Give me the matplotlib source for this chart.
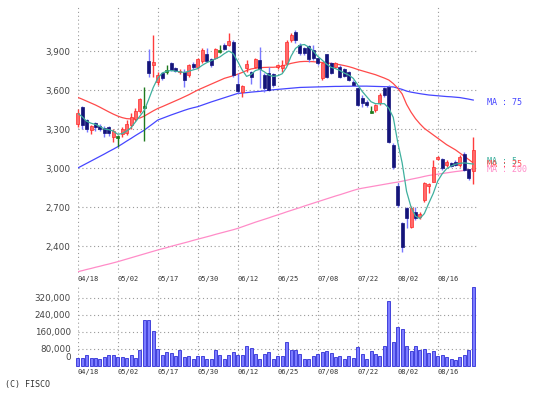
import numpy as np
import matplotlib
matplotlib.use('Agg')
import matplotlib.pyplot as plt

# daily candles 04/18 .. 08/28 (90 sessions)
opens = [3340, 3466, 3370, 3295, 3345, 3323, 3310, 3313, 3241, 3241,
         3262, 3267, 3330, 3380, 3440, 3470, 3825, 3792, 3664, 3728,
         3745, 3810, 3770, 3735, 3741, 3715, 3800, 3775, 3820, 3880,
         3835, 3850, 3900, 3950, 3945, 3971, 3646, 3587, 3766, 3740,
         3780, 3830, 3715, 3730, 3720, 3775, 3770, 3805, 3984, 4048,
         3946, 3920, 3938, 3907, 3843, 3689, 3876, 3805, 3779, 3779,
         3758, 3741, 3664, 3612, 3535, 3510, 3433, 3446, 3497, 3613,
         3626, 3177, 2862, 2580, 2690, 2549, 2664, 2625, 2754, 2862,
         2895, 3070, 3067, 3023, 3041, 3049, 3023, 3108, 2990, 2980]
highs = [3455, 3477, 3380, 3330, 3356, 3338, 3323, 3323, 3297, 3256,
         3313, 3370, 3420, 3460, 3540, 3626, 3912, 4023, 3740, 3735,
         3790, 3815, 3780, 3765, 3760, 3800, 3815, 3850, 3920, 3920,
         3850, 3925, 3950, 3960, 4035, 3984, 3728, 3640, 3830, 3750,
         3845, 3933, 3730, 3780, 3730, 3800, 3830, 3984, 4035, 4061,
         3959, 3933, 3946, 3946, 3850, 3810, 3880, 3815, 3815, 3790,
         3770, 3750, 3680, 3620, 3561, 3520, 3477, 3495, 3575, 3626,
         3639, 3190, 2882, 2587, 2703, 2708, 2703, 2660, 2895, 2882,
         3062, 3095, 3075, 3062, 3050, 3062, 3100, 3125, 2995, 3241]
lows = [3315, 3300, 3280, 3262, 3287, 3287, 3241, 3246, 3203, 3160,
        3241, 3254, 3300, 3360, 3420, 3205, 3702, 3700, 3640, 3680,
        3720, 3745, 3735, 3725, 3625, 3700, 3760, 3760, 3810, 3815,
        3780, 3840, 3885, 3905, 3940, 3702, 3574, 3548, 3740, 3650,
        3770, 3612, 3587, 3590, 3620, 3760, 3740, 3792, 3970, 3959,
        3870, 3870, 3818, 3830, 3795, 3680, 3690, 3720, 3770, 3695,
        3700, 3670, 3630, 3475, 3472, 3470, 3425, 3433, 3485, 3550,
        3190, 2995, 2703, 2357, 2536, 2536, 2600, 2610, 2741, 2805,
        2890, 3062, 2985, 3010, 3005, 3015, 3010, 2975, 2905, 2880]
closes = [3420, 3330, 3300, 3320, 3313, 3302, 3267, 3272, 3287, 3241,
          3297, 3338, 3395, 3440, 3530, 3470, 3728, 3818, 3715, 3690,
          3745, 3755, 3745, 3750, 3680, 3790, 3775, 3835, 3905, 3825,
          3790, 3912, 3900, 3912, 3980, 3715, 3590, 3630, 3800, 3700,
          3835, 3760, 3615, 3600, 3640, 3790, 3790, 3971, 4023, 3984,
          3882, 3882, 3836, 3843, 3805, 3805, 3697, 3728, 3805, 3702,
          3707, 3677, 3638, 3484, 3502, 3484, 3433, 3485, 3562, 3562,
          3203, 3005, 2716, 2395, 2613, 2690, 2613, 2650, 2887, 2877,
          3005, 3082, 2998, 3049, 3015, 3023, 3087, 2985, 2921, 3139]
volume = [38000, 38000, 54000, 38000, 38000, 35000, 43000, 54000, 51000, 42000,
          43000, 38000, 51000, 38000, 77000, 215000, 218000, 165000, 82000, 54000,
          66000, 63000, 46000, 74000, 43000, 48000, 35000, 46000, 46000, 35000,
          35000, 77000, 51000, 35000, 54000, 66000, 54000, 54000, 92000, 85000,
          58000, 35000, 58000, 66000, 34000, 49000, 49000, 112000, 74000, 74000,
          58000, 31000, 35000, 49000, 58000, 66000, 71000, 62000, 43000, 49000,
          35000, 49000, 38000, 89000, 58000, 35000, 71000, 55000, 48000, 92000,
          308000, 112000, 185000, 174000, 92000, 71000, 92000, 77000, 82000, 62000,
          71000, 46000, 51000, 43000, 32000, 28000, 43000, 54000, 74000, 372000]

ma5 = [3421, 3395, 3360, 3345, 3335, 3320, 3300, 3295, 3285, 3260,
       3265, 3285, 3310, 3355, 3400, 3445, 3530, 3620, 3690, 3730,
       3745, 3750, 3745, 3740, 3735, 3745, 3755, 3765, 3790, 3810,
       3825, 3840, 3855, 3880, 3900, 3880, 3820, 3755, 3705, 3720,
       3750, 3760, 3740, 3715, 3705, 3710, 3725, 3775, 3860, 3920,
       3945, 3950, 3930, 3900, 3860, 3830, 3800, 3775, 3765, 3750,
       3730, 3715, 3690, 3640, 3590, 3550, 3510, 3495, 3495, 3495,
       3460, 3390, 3200, 3040, 2820, 2700, 2630, 2612, 2650, 2730,
       2805, 2900, 2955, 2995, 3015, 3030, 3036, 3040, 3035, 3031]
ma25 = [3544, 3530, 3515, 3500, 3485, 3468, 3450, 3432, 3415, 3400,
        3388, 3380, 3378, 3380, 3385, 3400, 3420, 3440, 3458, 3472,
        3487, 3502, 3517, 3532, 3548, 3564, 3582, 3600, 3615, 3630,
        3645, 3660, 3675, 3690, 3700, 3710, 3722, 3735, 3750, 3762,
        3768, 3772, 3774, 3775, 3775, 3778, 3785, 3795, 3805, 3812,
        3818, 3820, 3820, 3818, 3815, 3812, 3808, 3805, 3800, 3795,
        3788, 3780, 3770, 3758, 3748, 3738, 3728, 3718, 3705, 3692,
        3677, 3650, 3615, 3570, 3490, 3430, 3380, 3340, 3305, 3280,
        3255, 3230, 3205, 3180, 3160, 3140, 3115, 3090, 3065, 3040]
ma75 = [3000, 3018, 3036, 3054, 3072, 3090, 3108, 3127, 3145, 3164,
        3185, 3207, 3228, 3250, 3271, 3292, 3318, 3343, 3369, 3382,
        3395, 3408, 3420, 3432, 3444, 3455, 3464, 3472, 3484, 3496,
        3508, 3519, 3530, 3541, 3552, 3563, 3574, 3577, 3580, 3584,
        3587, 3590, 3594, 3598, 3602, 3605, 3608, 3611, 3614, 3617,
        3620, 3621, 3622, 3623, 3624, 3625, 3626, 3627, 3628, 3628,
        3629, 3629, 3630, 3630, 3630, 3630, 3629, 3628, 3627, 3626,
        3625, 3624, 3615, 3605, 3592, 3584, 3578, 3572, 3567, 3562,
        3559, 3556, 3553, 3550, 3548, 3545, 3542, 3536, 3530, 3523]
ma200 = [2203, 2211, 2220, 2228, 2237, 2245, 2254, 2262, 2271, 2280,
         2290, 2300, 2310, 2320, 2330, 2340, 2350, 2360, 2370, 2379,
         2388, 2398, 2407, 2416, 2425, 2434, 2444, 2453, 2462, 2471,
         2480, 2490, 2499, 2508, 2517, 2526, 2536, 2548, 2560, 2572,
         2584, 2595, 2606, 2617, 2629, 2640, 2651, 2663, 2674, 2685,
         2696, 2708, 2719, 2730, 2741, 2752, 2763, 2774, 2785, 2795,
         2806, 2817, 2828, 2838, 2845, 2851, 2857, 2863, 2869, 2875,
         2881, 2887, 2892, 2899, 2906, 2914, 2921, 2928, 2936, 2943,
         2948, 2953, 2958, 2963, 2968, 2973, 2977, 2982, 2986, 2990]

date_labels = ['04/18', '05/02', '05/17', '05/30', '06/12',
               '06/25', '07/08', '07/22', '08/02', '08/16']
price_ticks = [2400, 2700, 3000, 3300, 3600, 3900]
vol_ticks = [80000, 160000, 240000, 320000]

W, H = 544, 398
fig = plt.figure(figsize=(W / 100, H / 100), dpi=100)

x = np.arange(len(closes))
o = np.array(opens)
c = np.array(closes)
grid_kw = dict(color='#9a9a9a', linestyle=(0, (1, 2.5)), linewidth=0.8)
tick_font = dict(fontsize=6.3, color='#444444')
date_idx = np.arange(0, 9 * len(date_labels), 9)

# ---- price panel ----
ax = fig.add_axes([77.7 / W, 1 - 273 / H, 400 / W, 268 / H])
ax.set_xlim(0, 90)
ax.set_ylim(2193, 4254)
for s in ax.spines.values():
    s.set_visible(False)
ax.set_yticks(price_ticks)
ax.set_yticklabels([f'{v:,}' for v in price_ticks], **tick_font)
ax.set_xticks(date_idx)
ax.set_xticklabels([])
ax.tick_params(length=0, pad=5)
ax.grid(True, **grid_kw)
ax.set_axisbelow(True)

ax.plot(x, ma200, color='#ff8cc8', lw=0.9)
ax.plot(x, ma75, color='#4646ff', lw=0.9)
ax.plot(x, ma25, color='#ff4a4a', lw=0.9)

up = c > o
down = c < o
body_col = np.where(up, '#ff6a6a', np.where(down, '#14147a', '#1e7a1e'))
edge_col = np.where(up, '#ff2a2a', np.where(down, '#14147a', '#1e7a1e'))
wick_col = np.where(up, '#ff3c3c', np.where(down, '#7878ff', '#1e7a1e'))
heights = np.maximum(np.abs(c - o), 14)
bottoms = np.where(np.abs(c - o) < 14, (o + c) / 2 - 7, np.minimum(o, c))

ax.vlines(x, lows, highs, colors=wick_col, lw=1, clip_on=False, zorder=3)
ax.bar(x, heights, bottom=bottoms, width=0.66, color=body_col,
       edgecolor=edge_col, linewidth=0.5, clip_on=False, zorder=4)

ax.plot(x, ma5, color='#3fb09e', lw=0.9, zorder=5)

# MA legend texts on the right
ma_font = dict(fontsize=6, family='DejaVu Sans Mono', va='center', ha='left')
fig.text(487 / W, 1 - 102.5 / H, 'MA : 75', color='#4646ff', **ma_font)
fig.text(487 / W, 1 - 161.5 / H, 'MA : 5', color='#3fb09e', **ma_font)
fig.text(487 / W, 1 - 164.5 / H, 'MA : 25', color='#ff4a4a', **ma_font)
fig.text(487 / W, 1 - 169.5 / H, 'MA : 200', color='#ff8cc8', **ma_font)

# ---- volume panel ----
av = fig.add_axes([77.7 / W, 1 - 366 / H, 400 / W, 81 / H])
av.set_xlim(0, 90)
av.set_ylim(0, 381000)
for s in av.spines.values():
    s.set_visible(False)
av.bar(x, volume, width=0.68, color='#7c7cff', edgecolor='#2e2ed6',
       linewidth=0.6, clip_on=False, zorder=3)
av.set_yticks(vol_ticks)
av.set_yticklabels([f'{v:,}' for v in vol_ticks], **tick_font)
av.set_xticks(date_idx)
av.set_xticklabels(date_labels, fontsize=5, family='DejaVu Sans Mono',
                   color='#333333', ha='left')
av.tick_params(axis='x', length=0, pad=2, top=True, labeltop=True)
av.tick_params(axis='y', length=0, pad=5)
av.grid(True, **grid_kw)
av.set_axisbelow(True)
av.annotate('0', xy=(0, 0), xycoords='axes fraction', xytext=(-5, 6),
            textcoords='offset points', ha='right', va='center', **tick_font)

fig.text(5 / W, 1 - 384 / H, '(C) FISCO', fontsize=6, family='DejaVu Sans Mono',
         color='#333333', va='center')

fig.savefig('out.png', dpi=100)
